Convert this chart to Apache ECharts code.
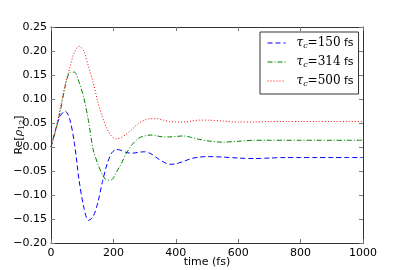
<!DOCTYPE html>
<html><head><meta charset="utf-8">
<script src="https://cdn.jsdelivr.net/npm/echarts@6/dist/echarts.min.js"></script>
<style>html,body{margin:0;padding:0;background:#fff}#c{width:404px;height:270px}</style>
</head><body><div id="c"></div>
<script>
const times = [0,15,30,45,60,75,90,105,120,135,150,165,180,195,210,225,240,260,280,300,320,340,360,380,400,425,450,475,500,550,600,650,700,750,800,850,900,950,1000];
const blue150 = [0,0.037,0.065,0.075,0.058,0.008,-0.069,-0.125,-0.153,-0.145,-0.116,-0.072,-0.035,-0.012,-0.005,-0.007,-0.011,-0.013,-0.011,-0.010,-0.014,-0.023,-0.031,-0.036,-0.035,-0.030,-0.024,-0.021,-0.020,-0.021,-0.023,-0.024,-0.023,-0.022,-0.022,-0.022,-0.022,-0.022,-0.022];
const green314 = [0,0.035,0.075,0.125,0.155,0.156,0.135,0.103,0.055,-0.005,-0.035,-0.058,-0.069,-0.068,-0.052,-0.035,-0.015,0.005,0.018,0.023,0.025,0.023,0.021,0.021,0.022,0.023,0.020,0.016,0.013,0.010,0.012,0.014,0.014,0.014,0.014,0.014,0.014,0.014,0.014];
const red500 = [0,0.035,0.082,0.128,0.165,0.197,0.210,0.200,0.168,0.135,0.094,0.062,0.037,0.022,0.017,0.020,0.026,0.037,0.049,0.056,0.059,0.059,0.056,0.053,0.052,0.052,0.054,0.056,0.056,0.054,0.052,0.052,0.053,0.053,0.053,0.053,0.053,0.053,0.053];
const seriesNames = ['150','314','500'];
const xTicks = [0,200,400,600,800,1000];
const yTicks = [-0.20,-0.15,-0.10,-0.05,0.00,0.05,0.10,0.15,0.20,0.25];

const pairs = vals => times.map((t,i)=>[t,vals[i]]);
const fmtY = v => (v<0?'\u2212':'') + Math.abs(v).toFixed(2);
const tickStyle = {show:true, inside:true, length:4, lineStyle:{color:'#777', width:1}};
const lineAx = {show:true, onZero:false, lineStyle:{color:'#333', width:1}};
const chart = echarts.init(document.getElementById('c'), null, {renderer:'canvas'});
const sans = 'DejaVu Sans';
const legendRich = {
  w:{width:6},
  t:{fontFamily:'DejaVu Serif', fontStyle:'italic', fontSize:12, color:'#000'},
  s:{fontFamily:'DejaVu Serif', fontStyle:'italic', fontSize:8, color:'#000', verticalAlign:'bottom', padding:[6,0,0,0]},
  q:{fontFamily:'DejaVu Serif', fontSize:12, color:'#000'},
  f:{fontFamily:sans, fontSize:11, color:'#000'}
};
const colors = ['#0000ff','#008000','#ff0000'];
const dashes = [[5,3],[5,2,1,2],[1,2]];
const data = [blue150, green314, red500];
chart.setOption({
  animation:false,
  grid:{left:51, right:41, top:27, bottom:27, outerBoundsMode:'none', containLabel:false},
  legend:{
    show:true, left:260, top:32, orient:'vertical', itemWidth:18, itemHeight:10, itemGap:6,
    padding:[5,5,6,7], borderColor:'#333', borderWidth:1, backgroundColor:'#fff',
    itemStyle:{opacity:0}, lineStyle:{width:1},
    formatter: n => '{w|}{t|τ}{s|c}{q|=' + n + '} {f|fs}',
    textStyle:{rich:legendRich},
    data: seriesNames
  },
  xAxis:[{
    type:'value', min:0, max:1000, interval:200, position:'bottom',
    axisLine:lineAx, axisTick:tickStyle, splitLine:{show:false},
    axisLabel:{fontFamily:sans, fontSize:11, color:'#000', margin:5, formatter:v=>String(v)},
    name:'time (fs)', nameLocation:'middle', nameGap:14, nameMoveOverlap:false,
    nameTextStyle:{fontFamily:sans, fontSize:11, color:'#000'}
  },{
    type:'value', min:0, max:1000, interval:200, position:'top',
    axisLine:lineAx, axisTick:tickStyle, axisLabel:{show:false}, splitLine:{show:false}
  }],
  yAxis:[{
    type:'value', min:-0.20, max:0.25, interval:0.05, position:'left',
    axisLine:lineAx, axisTick:tickStyle, splitLine:{show:false},
    axisLabel:{fontFamily:sans, fontSize:11, color:'#000', margin:4, formatter:fmtY},
    name:'{r|Re[}{p|ρ}{b|12}{r|]}', nameLocation:'middle', nameGap:25, nameRotate:90, nameMoveOverlap:false,
    nameTextStyle:{rich:{
      r:{fontFamily:sans, fontSize:11, color:'#000'},
      p:{fontFamily:'DejaVu Serif', fontStyle:'italic', fontSize:11, color:'#000'},
      b:{fontFamily:'DejaVu Serif', fontSize:8, color:'#000', verticalAlign:'bottom', padding:[5,0,0,0]}
    }}
  },{
    type:'value', min:-0.20, max:0.25, interval:0.05, position:'right',
    axisLine:lineAx, axisTick:tickStyle, axisLabel:{show:false}, splitLine:{show:false}
  }],
  series: seriesNames.map((n,i)=>({
    name:n, type:'line', data:pairs(data[i]), smooth:0.3, showSymbol:false, symbol:'none',
    lineStyle:{color:colors[i], width:1, type:dashes[i]}, itemStyle:{color:colors[i]}
  }))
});
</script></body></html>
